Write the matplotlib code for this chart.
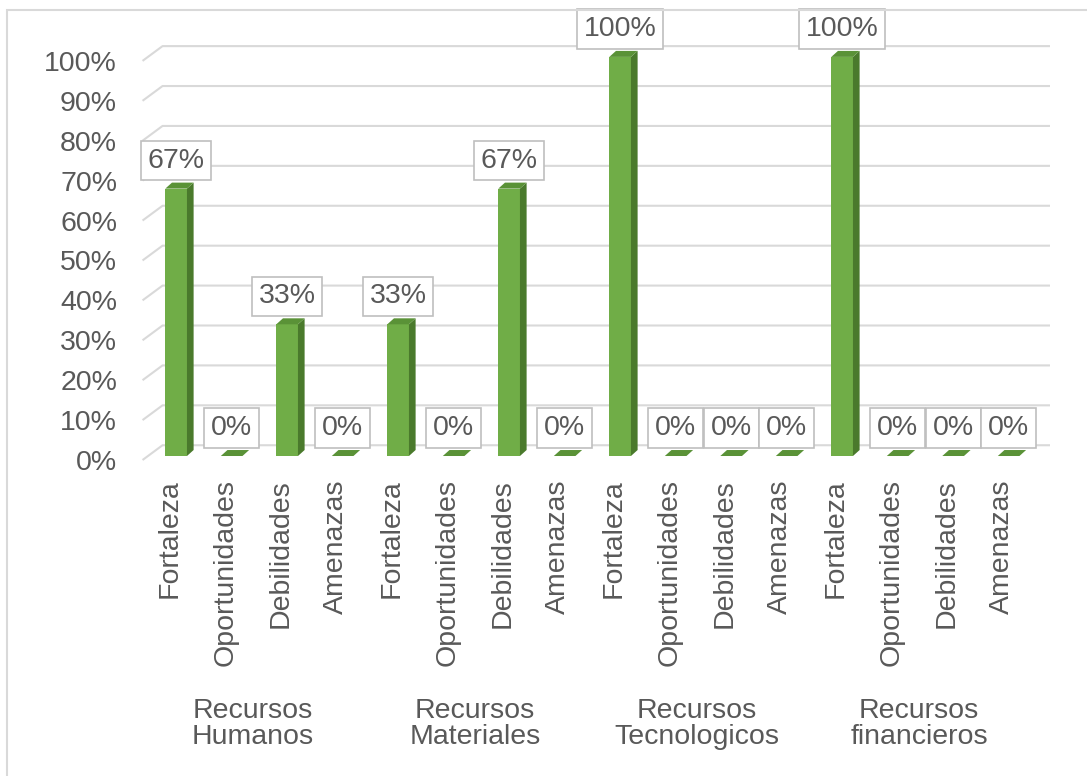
import numpy as np
import matplotlib
matplotlib.use("Agg")
from matplotlib import pyplot as plt
from matplotlib.patches import Polygon, Rectangle
from matplotlib.transforms import blended_transform_factory

plt.rcParams['font.family'] = ['Liberation Sans', 'DejaVu Sans']

# data
grupos = ["Recursos\nHumanos", "Recursos\nMateriales", "Recursos\nTecnologicos", "Recursos\nfinancieros"]
factores = ["Fortaleza", "Oportunidades", "Debilidades", "Amenazas"]
categorias = factores * 4
valores = [67, 0, 33, 0,
           33, 0, 67, 0,
           100, 0, 0, 0,
           100, 0, 0, 0]
yticks = list(range(0, 101, 10))

txt = "#595959"
grid_c = "#D9D9D9"
front_c, side_c, top_c = "#70AD47", "#4A7A2C", "#5A9237"
fs = 20.5

fig = plt.figure(figsize=(10.87, 7.76), dpi=100)
ax = fig.add_axes([142/1087, (776-460)/776, (1030-142)/1087, 451/776])
ax.set_xlim(-0.5, 15.5)
ax.set_ylim(0, 112)
for s in ax.spines.values():
    s.set_visible(False)

# outer chart border
fig.patches.append(Rectangle((7/1087, -0.05), 1.2, (776-10)/776 + 0.05, transform=fig.transFigure,
                             fill=False, edgecolor=grid_c, lw=1.5))

# back-wall gridlines with the 3d slant
dx_w, dy_w, fy = 0.36, 2.7, -1.0
for v in yticks:
    ax.plot([-0.49, -0.49 + dx_w, 15.86], [v + fy, v + dy_w, v + dy_w], color=grid_c, lw=1.5,
            clip_on=False, zorder=1, solid_capstyle='butt')

# 3d-style bars
w, off, ddx, ddy = 0.39, -0.08, 0.12, 1.5
for i, v in enumerate(valores):
    x0 = i + off
    x1 = x0 + w
    if v > 0:
        ax.add_patch(Rectangle((x0, 0), w, v, facecolor=front_c, edgecolor='none', zorder=3))
        ax.add_patch(Polygon([(x1, 0), (x1 + ddx, ddy), (x1 + ddx, v + ddy), (x1, v)],
                             facecolor=side_c, edgecolor='none', zorder=3))
    ax.add_patch(Polygon([(x0, v), (x1, v), (x1 + ddx, v + ddy), (x0 + ddx, v + ddy)],
                         facecolor=top_c, edgecolor='none', zorder=3))
    ax.text(x0 + w / 2, v + 7, f"{v}%", ha='center', va='center', fontsize=fs, color=txt, zorder=5,
            bbox=dict(boxstyle='square,pad=0.24', facecolor='white', edgecolor='#BFBFBF', lw=1.2))

ax.set_yticks([v + fy for v in yticks], [f"{v}%" for v in yticks])
ax.set_xticks(range(len(categorias)), categorias, rotation=90, va='top')
ax.tick_params(axis='y', length=0, pad=18, labelsize=fs, labelcolor=txt)
ax.tick_params(axis='x', length=0, pad=14, labelsize=fs, labelcolor=txt)

tr = blended_transform_factory(ax.transData, ax.transAxes)
for g, nombre in enumerate(grupos):
    ax.text(g * 4 + 1.5, (460 - 724) / 451, nombre, transform=tr, ha='center', va='center',
            fontsize=fs, color=txt, linespacing=1.05)

fig.savefig("out.png", dpi=100)
